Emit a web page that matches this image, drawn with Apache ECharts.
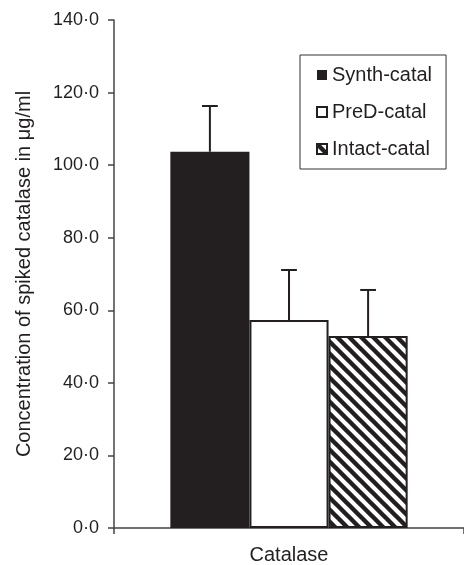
<!DOCTYPE html>
<html lang="en">
<head>
    <meta charset="UTF-8">
    <title>Catalase</title>
    <script src="https://cdn.jsdelivr.net/npm/echarts@6/dist/echarts.min.js"></script>
    <style>html,body{margin:0;padding:0;background:#fff;}</style>
</head>
<body>
    <div id="main" style="width: 464px;height: 565px"></div>
    <script>
        // data
        var categories = ['Catalase'];
        var seriesNames = ['Synth-catal', 'PreD-catal', 'Intact-catal'];
        var means = [103.7, 57.3, 52.9];
        var errors = [12.6, 13.8, 12.7];
        var yMin = 0, yMax = 140, yStep = 20;

        var FONT = "'Liberation Sans', Arial, sans-serif";
        var INK = '#231f20';
        var BAR_FRAC = 0.226; // bar width as part of the category band

        // diagonal stripe pattern for the third bar
        function hatch() {
            var s = 12, c = document.createElement('canvas');
            c.width = s; c.height = s;
            var g = c.getContext('2d');
            g.fillStyle = '#fff'; g.fillRect(0, 0, s, s);
            g.strokeStyle = INK; g.lineWidth = 4.4;
            g.beginPath();
            g.moveTo(-2, -2); g.lineTo(s + 2, s + 2);
            g.moveTo(s - 3, -3); g.lineTo(s + 3, 3);
            g.moveTo(-3, s - 3); g.lineTo(3, s + 3);
            g.stroke();
            return c;
        }

        var fills = [
            {color: INK, borderColor: INK, borderWidth: 0},
            {color: '#fff', borderColor: INK, borderWidth: 2},
            {color: {image: hatch(), repeat: 'repeat'}, borderColor: INK, borderWidth: 2}
        ];

        var mCharts = echarts.init(document.getElementById('main'));

        var series = seriesNames.map(function (n, i) {
            return {
                name: n,
                type: 'bar',
                data: [means[i]],
                barWidth: (BAR_FRAC * 100) + '%',
                barGap: '0%',
                itemStyle: fills[i],
                emphasis: {disabled: true}
            };
        });

        series.push({
            type: 'custom',
            name: 'err',
            z: 5,
            data: means.map(function (m, i) { return [0, m, m + errors[i], i]; }),
            encode: {x: 0, y: 2},
            renderItem: function (params, api) {
                var c = api.value(0);
                var base = api.coord([c, api.value(1)]);
                var top = api.coord([c, api.value(2)]);
                var bw = api.size([1, 0])[0] * BAR_FRAC;
                var x = base[0] + (api.value(3) - 1) * bw;
                var half = bw * 0.1;
                var st = {stroke: INK, lineWidth: 2};
                return {
                    type: 'group',
                    children: [
                        {type: 'line', shape: {x1: x, y1: base[1], x2: x, y2: top[1]}, style: st},
                        {type: 'line', shape: {x1: x - half, y1: top[1], x2: x + half, y2: top[1]}, style: st}
                    ]
                };
            }
        });

        var option = {
            animation: false,
            textStyle: {fontFamily: FONT, color: INK},
            grid: {left: 114, right: 0, top: 20, bottom: 37},
            legend: {
                data: seriesNames,
                orient: 'vertical',
                left: 300,
                top: 55,
                itemWidth: 10,
                itemHeight: 10,
                itemGap: 17,
                icon: 'rect',
                padding: [10, 14, 10, 16],
                borderColor: '#333',
                borderWidth: 1,
                textStyle: {fontSize: 20, color: INK, fontFamily: FONT}
            },
            xAxis: {
                type: 'category',
                data: categories,
                axisLine: {lineStyle: {color: '#444', width: 1.5}},
                axisTick: {show: true, length: 6, lineStyle: {color: '#444', width: 1.5}},
                axisLabel: {fontSize: 20, margin: 17, color: INK}
            },
            yAxis: {
                type: 'value',
                min: yMin,
                max: yMax,
                interval: yStep,
                splitLine: {show: false},
                axisLine: {show: true, lineStyle: {color: '#444', width: 1.5}},
                axisTick: {show: true, length: 6, lineStyle: {color: '#444', width: 1.5}},
                axisLabel: {
                    fontSize: 18,
                    margin: 15,
                    color: INK,
                    formatter: function (v) { return v.toFixed(1).replace('.', '\u00b7'); }
                },
                name: 'Concentration of spiked catalase in \u03bcg/ml',
                nameLocation: 'middle',
                nameGap: 80,
                nameTextStyle: {fontSize: 20, color: INK}
            },
            series: series
        };
        mCharts.setOption(option);
    </script>
</body>
</html>
